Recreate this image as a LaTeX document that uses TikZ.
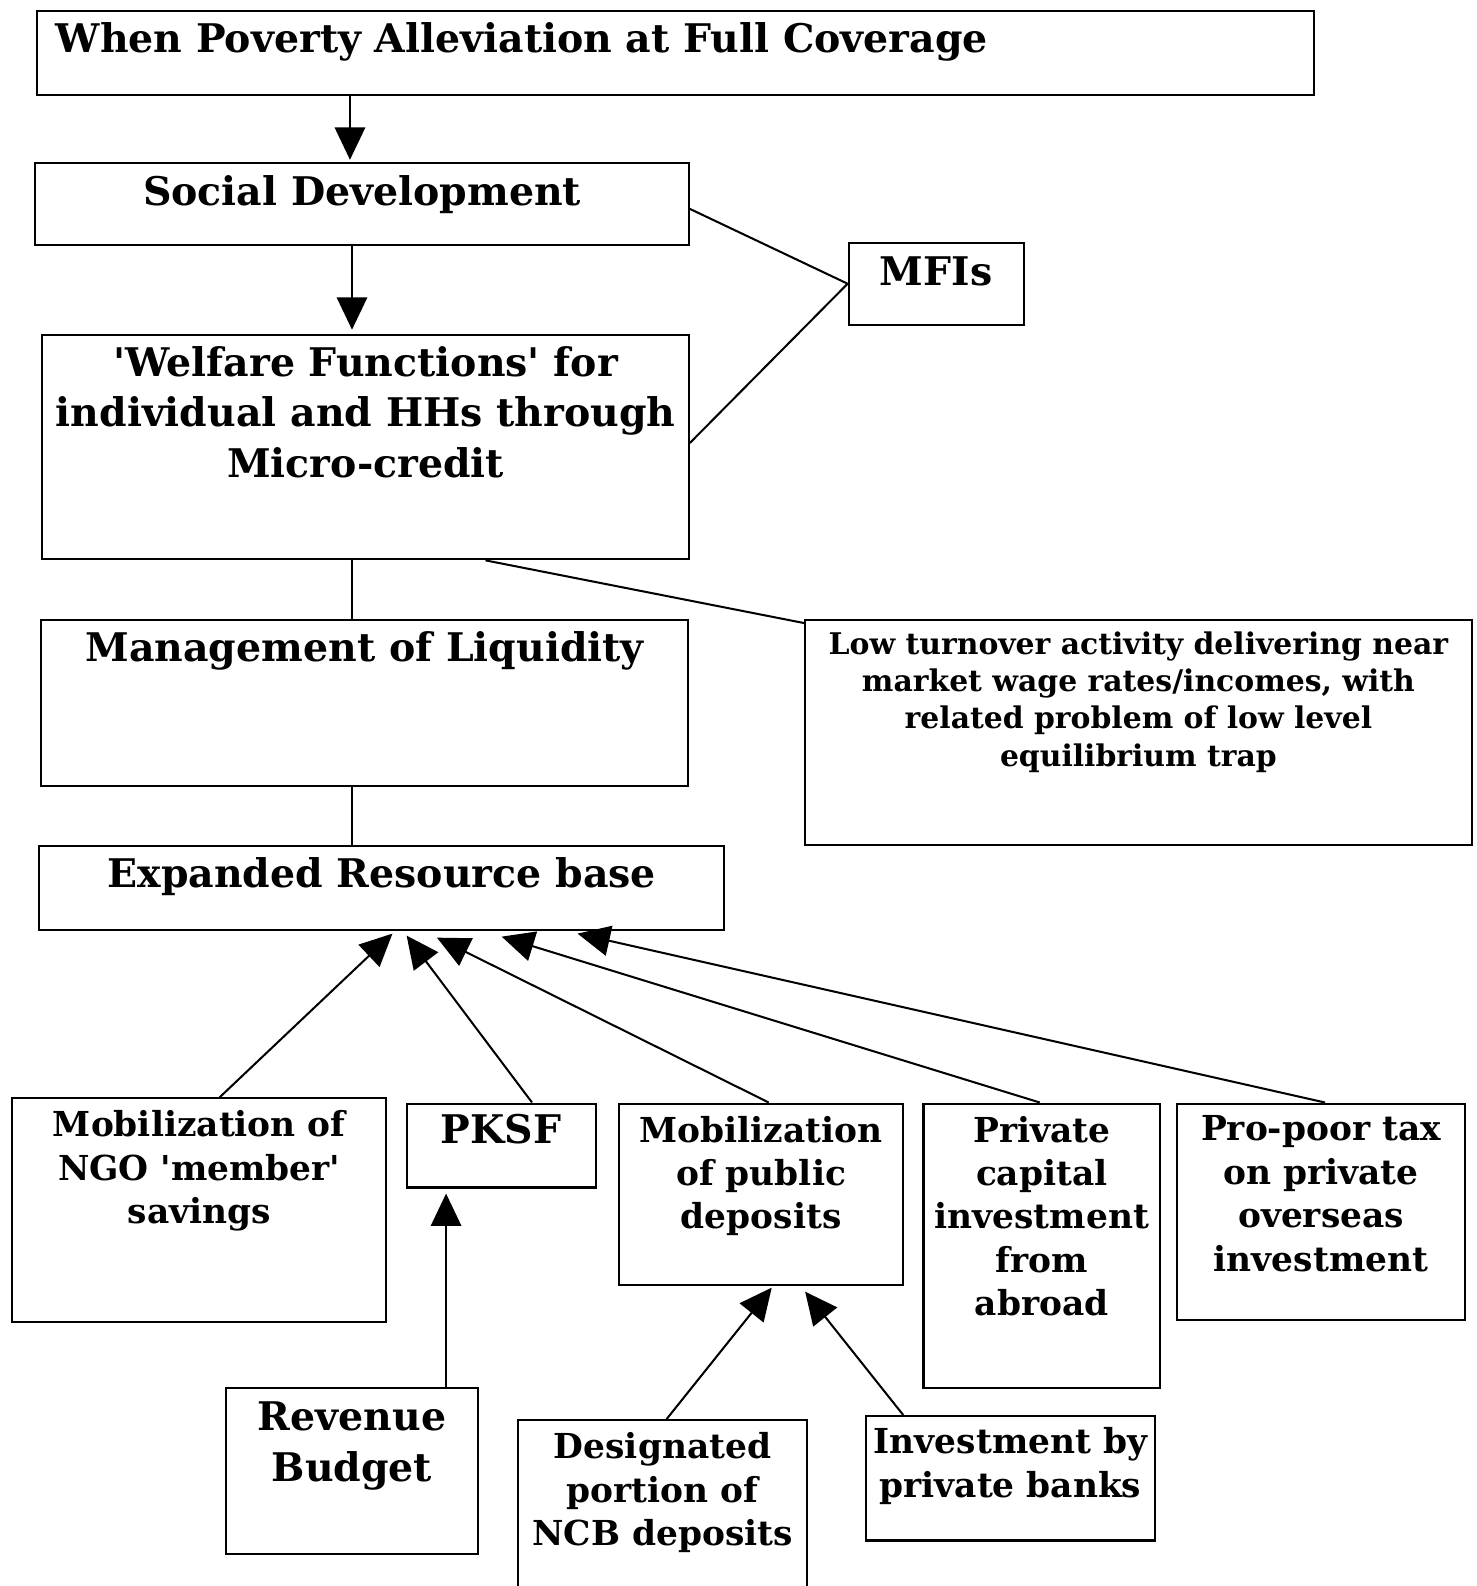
\documentclass[tikz,border=0pt]{standalone}
\usepackage{fontspec}
\setmainfont{DejaVu Serif}
\usetikzlibrary{arrows.meta,positioning}

\begin{document}
\begin{tikzpicture}[x=1pt,y=-1pt,
            box/.style={rectangle,draw=black,line width=2pt,anchor=north west,inner sep=0pt},
            lbl/.style={inner sep=0pt,anchor=north,align=center},
            bigfont/.style={font=\bfseries\fontsize{39}{50}\selectfont},
            midfont/.style={font=\bfseries\fontsize{34}{43}\selectfont},
            smallfont/.style={font=\bfseries\fontsize{29.5}{37}\selectfont},
            hugefont/.style={font=\bfseries\fontsize{39}{50}\selectfont},
            link/.style={line width=2pt},
            arr/.style={line width=2pt,-{Triangle[length=32pt,width=30pt]}}]

            \useasboundingbox (0,0) rectangle (1460,1568);

            % boxes
            \node[box,minimum width=1262pt,minimum height=83pt] (top) at (36,10) {};
            \node[box,minimum width=646pt,minimum height=81pt] (soc) at (34,160) {};
            \node[box,minimum width=173pt,minimum height=81pt] (mfi) at (838,239) {};
            \node[box,minimum width=639pt,minimum height=222pt] (wf) at (41,330) {};
            \node[box,minimum width=639pt,minimum height=164pt] (liq) at (40,612) {};
            \node[box,minimum width=659pt,minimum height=222pt] (low) at (795,612) {};
            \node[box,minimum width=677pt,minimum height=83pt] (erb) at (38,835) {};
            \node[box,minimum width=370pt,minimum height=221pt] (ngo) at (11,1085) {};
            \node[box,minimum width=187pt,minimum height=83pt] (pksf) at (401,1090) {};
            \node[box,minimum width=281pt,minimum height=179pt] (pub) at (611,1090) {};
            \node[box,minimum width=234pt,minimum height=281pt] (pci) at (912,1090) {};
            \node[box,minimum width=284pt,minimum height=214pt] (tax) at (1163,1090) {};
            \node[box,minimum width=250pt,minimum height=164pt] (rev) at (222,1371) {};
            \node[box,minimum width=286pt,minimum height=190pt] (ncb) at (511,1403) {};
            \node[box,minimum width=286pt,minimum height=123pt] (pvb) at (855,1399) {};

            % texts
            \node[lbl,bigfont,anchor=north west,below right=12pt and 19pt of top.north west] (top-t) {When Poverty Alleviation at Full Coverage};
            \node[lbl,bigfont,below=13pt of soc.north] (soc-t) {Social Development};
            \node[lbl,bigfont,below=15pt of mfi.north] (mfi-t) {MFIs};
            \node[lbl,bigfont,below=12pt of wf.north] (wf-t) {\textquotesingle Welfare Functions\textquotesingle{} for\\individual and HHs through\\Micro-credit};
            \node[lbl,bigfont,below=12pt of liq.north] (liq-t) {Management of Liquidity};
            \node[lbl,smallfont,below=12pt of low.north] (low-t) {Low turnover activity delivering near\\market wage rates/incomes, with\\related problem of low level\\equilibrium trap};
            \node[lbl,bigfont,below=13pt of erb.north] (erb-t) {Expanded Resource base};
            \node[lbl,midfont,below=13pt of ngo.north] (ngo-t) {Mobilization of\\NGO \textquotesingle member\textquotesingle\\savings};
            \node[lbl,bigfont,below=11pt of pksf.north] (pksf-t) {PKSF};
            \node[lbl,midfont,below=13pt of pub.north] (pub-t) {Mobilization\\of public\\deposits};
            \node[lbl,midfont,below=13pt of pci.north] (pci-t) {Private\\capital\\investment\\from\\abroad};
            \node[lbl,midfont,below=13pt of tax.north] (tax-t) {Pro-poor tax\\on private\\overseas\\investment};
            \node[lbl,hugefont,below=15pt of rev.north] (rev-t) {Revenue\\Budget};
            \node[lbl,midfont,below=13pt of ncb.north] (ncb-t) {Designated\\portion of\\NCB deposits};
            \node[lbl,midfont,below=12pt of pvb.north] (pvb-t) {Investment by\\private banks};

            % connectors
            \draw[arr] ([xshift=310pt]top.south west) -- ([xshift=312pt,yshift=2pt]soc.north west);
            \draw[arr] ([xshift=314pt]soc.south west) -- ([xshift=307pt,yshift=4pt]wf.north west);
            \draw[link] ([yshift=-5pt]soc.east) -- (mfi.west);
            \draw[link] ([yshift=4pt]wf.east) -- (mfi.west);
            \draw[link] ([xshift=307pt]wf.south west) -- ([xshift=308pt]liq.north west);
            \draw[link] ([xshift=439pt]wf.south west) -- ([yshift=-4pt]low.north west);
            \draw[link] ([xshift=308pt]liq.south west) -- ([xshift=310pt]erb.north west);
            \draw[arr] ([xshift=206pt]ngo.north west) -- ([xshift=350pt,yshift=-3pt]erb.south west);
            \draw[arr] ([xshift=125pt]pksf.north west) -- ([xshift=364pt,yshift=-5pt]erb.south west);
            \draw[arr] ([xshift=149pt]pub.north west) -- ([xshift=394pt,yshift=-7pt]erb.south west);
            \draw[arr] ([xshift=116pt]pci.north west) -- ([xshift=458pt,yshift=-6pt]erb.south west);
            \draw[arr] ([xshift=147pt]tax.north west) -- ([xshift=533pt,yshift=-3pt]erb.south west);
            \draw[arr] ([xshift=219pt]rev.north west) -- ([xshift=40pt,yshift=-5pt]pksf.south west);
            \draw[arr] ([xshift=148pt]ncb.north west) -- ([xshift=152pt,yshift=-2pt]pub.south west);
            \draw[arr] ([xshift=38pt]pvb.north west) -- ([xshift=185pt,yshift=-6pt]pub.south west);
         \end{tikzpicture}
\end{document}
